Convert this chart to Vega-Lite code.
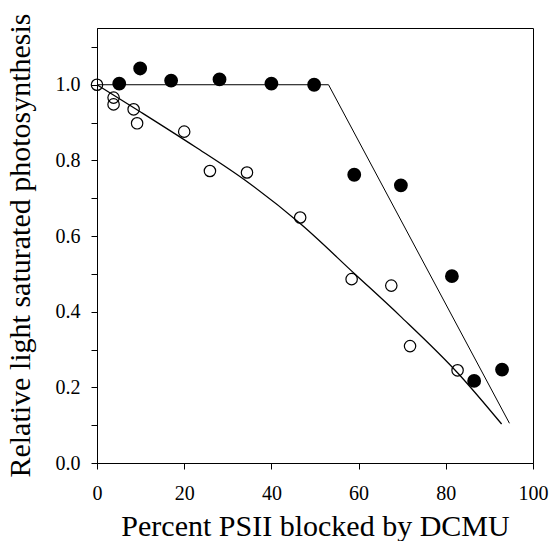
{
  "$schema": "https://vega.github.io/schema/vega-lite/v6.json",
  "autosize": "none",
  "width": 436,
  "height": 435,
  "padding": {"left": 97, "top": 28, "right": 18, "bottom": 78},
  "background": "white",
  "config": {
    "view": {"stroke": "black", "strokeWidth": 1},
    "font": "Liberation Serif",
    "axis": {
      "grid": false,
      "domainColor": "black",
      "tickColor": "black",
      "tickSize": 6,
      "labelFont": "Liberation Serif",
      "labelFontSize": 20,
      "labelColor": "black",
      "titleFont": "Liberation Serif",
      "titleFontSize": 30,
      "titleFontWeight": "normal",
      "titleColor": "black"
    }
  },
  "datasets": {
    "filled": [
      {"x": 5.1, "y": 1.003},
      {"x": 9.9, "y": 1.043},
      {"x": 17.0, "y": 1.011},
      {"x": 28.1, "y": 1.014},
      {"x": 40.0, "y": 1.003},
      {"x": 49.8, "y": 1.0},
      {"x": 59.0, "y": 0.762},
      {"x": 69.7, "y": 0.734},
      {"x": 81.4, "y": 0.494},
      {"x": 86.5, "y": 0.217},
      {"x": 92.9, "y": 0.247}
    ],
    "open": [
      {"x": 0, "y": 1.0},
      {"x": 3.8, "y": 0.966},
      {"x": 3.8, "y": 0.948},
      {"x": 8.4, "y": 0.935},
      {"x": 9.2, "y": 0.898},
      {"x": 20.0, "y": 0.876},
      {"x": 25.9, "y": 0.772},
      {"x": 34.4, "y": 0.768},
      {"x": 46.6, "y": 0.649},
      {"x": 58.4, "y": 0.486},
      {"x": 67.5, "y": 0.469},
      {"x": 71.8, "y": 0.309},
      {"x": 82.7, "y": 0.245}
    ],
    "fitFilled": [
      {"x": 0, "y": 1.0},
      {"x": 53.1, "y": 1.0},
      {"x": 94.6, "y": 0.105}
    ],
    "fitOpen": [
      {"x": 0, "y": 1.0},
      {"x": 10, "y": 0.928},
      {"x": 22.5, "y": 0.836},
      {"x": 33.9, "y": 0.748},
      {"x": 46.6, "y": 0.633},
      {"x": 59.2, "y": 0.499},
      {"x": 69.5, "y": 0.389},
      {"x": 82.9, "y": 0.236},
      {"x": 92.8, "y": 0.103}
    ]
  },
  "encoding": {
    "x": {
      "field": "x",
      "type": "quantitative",
      "scale": {"domain": [0, 100], "nice": false, "zero": false},
      "axis": {
        "title": "Percent PSII blocked by DCMU",
        "values": [0, 20, 40, 60, 80, 100],
        "labelPadding": 14,
        "titleBaseline": "alphabetic",
        "titleY": 72,
        "labelFlush": false
      }
    },
    "y": {
      "field": "y",
      "type": "quantitative",
      "scale": {"domain": [0, 1.15], "nice": false, "zero": false},
      "axis": {
        "title": "Relative light saturated photosynthesis",
        "values": [0, 0.1, 0.2, 0.3, 0.4, 0.5, 0.6, 0.7, 0.8, 0.9, 1.0, 1.1],
        "labelExpr": "round(datum.value * 10) % 2 === 0 ? format(datum.value, '.1f') : ''",
        "labelPadding": 11,
        "labelFlush": false,
        "titleAngle": -90,
        "titleAlign": "center",
        "titleBaseline": "alphabetic",
        "titleX": -68,
        "titleY": 217
      }
    }
  },
  "layer": [
    {
      "data": {"name": "fitFilled"},
      "mark": {"type": "line", "color": "black", "strokeWidth": 1}
    },
    {
      "data": {"name": "fitOpen"},
      "mark": {"type": "line", "color": "black", "strokeWidth": 1.3, "interpolate": "monotone"}
    },
    {
      "data": {"name": "filled"},
      "mark": {"type": "point", "shape": "circle", "filled": true, "fill": "black", "stroke": "black", "size": 140, "opacity": 1}
    },
    {
      "data": {"name": "open"},
      "mark": {"type": "point", "shape": "circle", "filled": false, "stroke": "black", "strokeWidth": 1.2, "size": 130, "opacity": 1}
    }
  ]
}
